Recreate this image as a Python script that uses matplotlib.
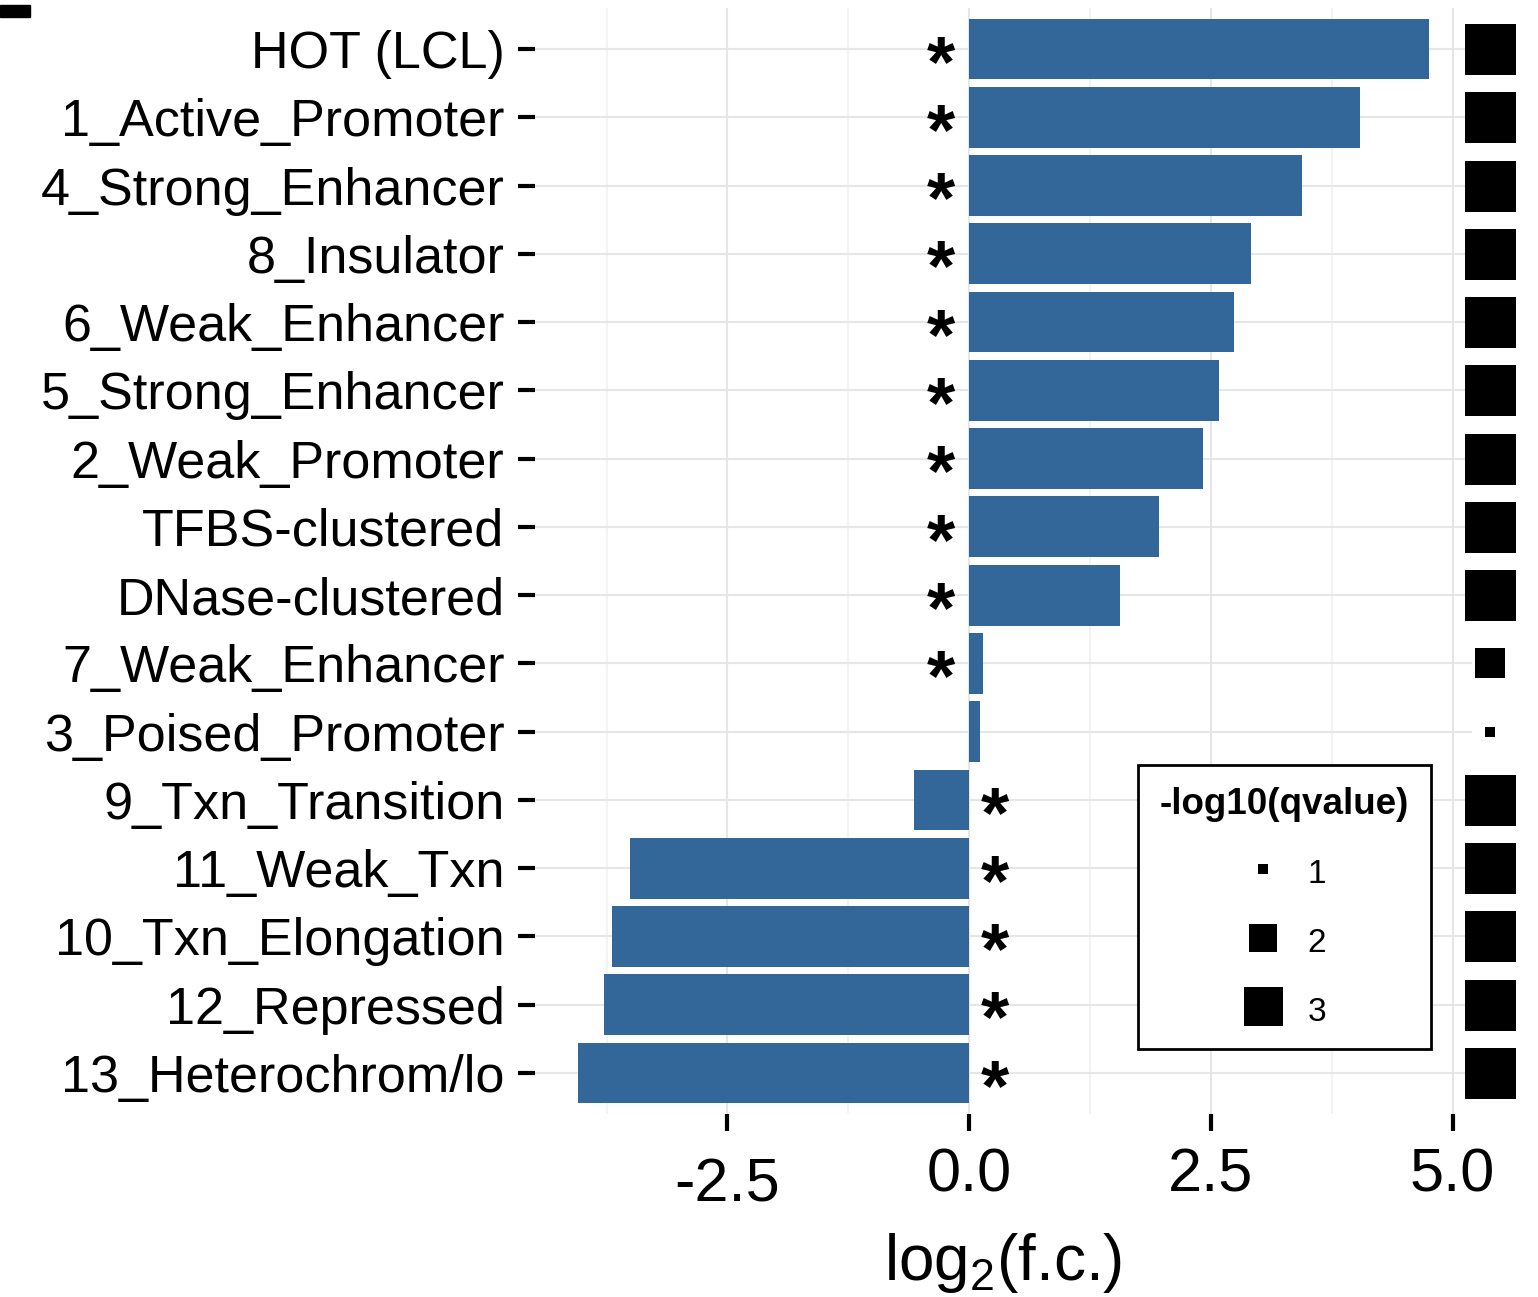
import numpy as np
import matplotlib
matplotlib.use("Agg")
import matplotlib.pyplot as plt
from matplotlib.lines import Line2D
from matplotlib.patches import Rectangle
from matplotlib.transforms import ScaledTranslation, blended_transform_factory

plt.rcParams['font.family'] = ['Liberation Sans', 'DejaVu Sans']
plt.rcParams['mathtext.fontset'] = 'custom'
plt.rcParams['mathtext.rm'] = 'Liberation Sans'

# chromatin states, top to bottom
states = ['HOT (LCL)', '1_Active_Promoter', '4_Strong_Enhancer', '8_Insulator',
          '6_Weak_Enhancer', '5_Strong_Enhancer', '2_Weak_Promoter',
          'TFBS-clustered', 'DNase-clustered', '7_Weak_Enhancer',
          '3_Poised_Promoter', '9_Txn_Transition', '11_Weak_Txn',
          '10_Txn_Elongation', '12_Repressed', '13_Heterochrom/lo']
log2fc = [4.76, 4.04, 3.44, 2.91, 2.74, 2.58, 2.42, 1.96, 1.56, 0.14,
          0.11, -0.57, -3.51, -3.69, -3.78, -4.05]
neglog_q = [4.0, 4.0, 4.0, 4.0, 4.0, 4.0, 4.0, 4.0, 4.0, 2.17,
            0.94, 4.0, 4.0, 4.0, 4.0, 4.0]
significant = [True] * 10 + [False] + [True] * 5
legend_levels = [1, 2, 3]

bar_color = '#336699'
DPI = 100
fig = plt.figure(figsize=(15.38, 12.97), dpi=DPI)
ax = fig.add_axes([535 / 1538, 1 - 1114 / 1297, (1472 - 535) / 1538, (1114 - 8) / 1297])

y = np.arange(len(states))
ax.barh(y, log2fc, height=0.89, color=bar_color, zorder=2)

# significance stars sit just across zero from each bar
for yi, v, sig in zip(y, log2fc, significant):
    if sig:
        xs = -0.29 if v > 0 else 0.27
        ax.text(xs, yi + 0.26, '*', ha='center', va='center', fontsize=52,
                fontweight='bold', zorder=3)


def side_pt(q):
    # square side (points) for a -log10(q) value
    return np.interp(q, [1, 2, 3, 4], [10, 27, 39, 51]) / (DPI / 72)


# q-value squares in the right margin, outside the panel
tr = blended_transform_factory(ax.transAxes, ax.transData)
for yi, q in zip(y, neglog_q):
    ax.plot([1.0197], [yi], marker='s', markersize=side_pt(q), color='black',
            markeredgewidth=0, transform=tr, clip_on=False, zorder=4)

xmin, xmax = min(log2fc), max(log2fc)
pad = 0.05 * (xmax - xmin)
ax.set_xlim(xmin - pad, xmax + pad)
ax.set_ylim(len(states) - 0.4, -0.6)

ax.set_yticks(y)
ax.set_yticklabels(states)
ax.set_xticks([-2.5, 0, 2.5, 5.0])
ax.set_xticklabels(['-2.5', '0.0', '2.5', '5.0'])
ax.set_xticks([-3.75, -1.25, 1.25, 3.75], minor=True)
ax.tick_params(axis='y', length=12, width=3, pad=10, labelsize=37.5)
ax.tick_params(axis='x', which='major', length=12, width=3, pad=12, labelsize=44)
ax.tick_params(axis='x', which='minor', length=0)

ax.grid(True, which='major', color='#e6e6e6', linewidth=1.5, zorder=0)
ax.grid(True, which='minor', axis='x', color='#f3f3f3', linewidth=1.5, zorder=0)
ax.set_axisbelow(True)
for s in ax.spines.values():
    s.set_visible(False)

ax.set_xlabel(r'log$_2$(f.c.)', fontsize=46, labelpad=12)

handles = [Line2D([], [], linestyle='none', marker='s', color='black',
                  markeredgewidth=0, markersize=side_pt(v)) for v in legend_levels]
leg = ax.legend(handles, [str(v) for v in legend_levels], title='-log10(qvalue)',
                loc='upper left', bbox_to_anchor=(1138 / 1538, 1 - 765 / 1297),
                bbox_transform=fig.transFigure, borderaxespad=0, fontsize=24,
                title_fontproperties={'size': 26.5, 'weight': 'bold'},
                frameon=True, fancybox=False, edgecolor='black', framealpha=1,
                handlelength=1.2, handleheight=1.2, handletextpad=0.75,
                labelspacing=1.0, borderpad=0.65)
leg.get_frame().set_linewidth(2)
leg.set_zorder(5)

fig.add_artist(Rectangle((0, 1 - 17 / 1297), 30 / 1538, 12 / 1297,
                         transform=fig.transFigure, color='black'))

fig.canvas.draw()
lab = ax.xaxis.get_major_ticks()[0].label1
lab.set_transform(lab.get_transform() + ScaledTranslation(0, -10 / DPI, fig.dpi_scale_trans))

fig.savefig('out.png', dpi=DPI)
